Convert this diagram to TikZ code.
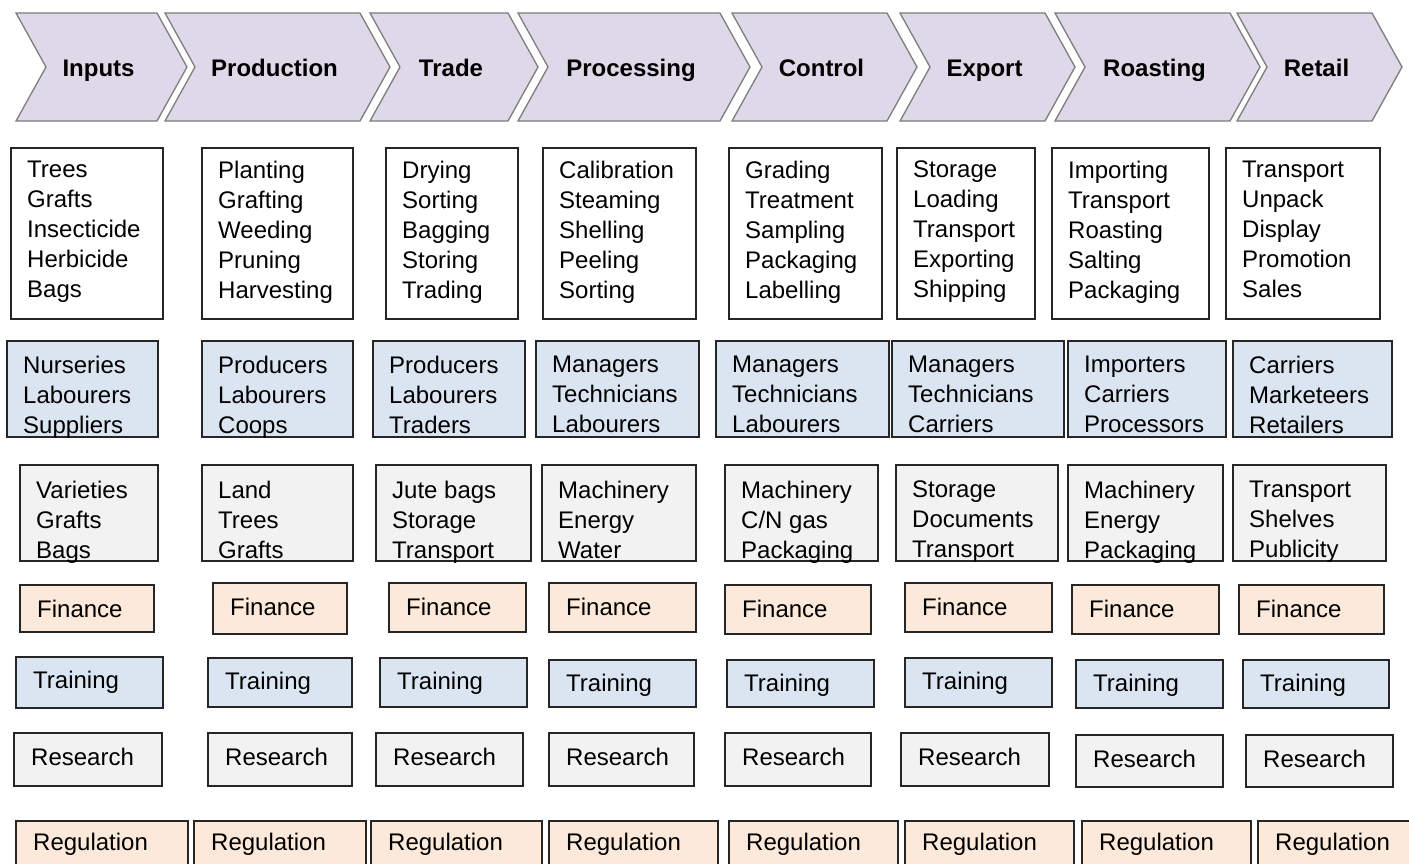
\documentclass[tikz,border=0pt]{standalone}
\usepackage{fontspec}
\setmainfont{Liberation Sans}
\definecolor{stagefill}{RGB}{222, 216, 232}
\definecolor{stageline}{RGB}{125, 125, 125}
\definecolor{cellline}{RGB}{38, 38, 38}
\definecolor{actorblue}{RGB}{219, 229, 241}
\definecolor{assetgray}{RGB}{242, 242, 242}
\definecolor{supportpeach}{RGB}{253, 233, 217}

\begin{document}
\begin{tikzpicture}[x=1pt, y=-1pt,
        stage/.style={draw=stageline, fill=stagefill, line width=1.3pt, line join=miter},
        stagelabel/.style={font=\bfseries\fontsize{24}{30}\selectfont, anchor=base},
        cell/.style={draw=cellline, line width=1.2pt, anchor=north west, inner sep=0pt, outer sep=0pt},
        celltext/.style={font=\fontsize{24}{30}\selectfont, align=left, anchor=north west, inner sep=0pt}]
        % Rahmen
        \useasboundingbox (0,0) rectangle (1409,863);
        \clip (0,0) rectangle (1409,863);
        \fill[white] (0,0) rectangle (1409,863);

        % Stufen der Kette
        \foreach \l/\r/\stagename [count=\i] in {16/157/Inputs, 165/360/Production, 370/508/Trade,
                518/720/Processing, 732/887/Control, 900/1045/Export, 1055/1230/Roasting, 1237/1372/Retail} {
            \draw[stage] (\l,13) -- (\r,13) -- (\r+30,67) -- (\r,121) -- (\l,121) -- (\l+30,67) -- cycle;
            \node[stagelabel] (stage\i) at ({(\l+\r)/2+12},76) {\stagename};
        }

        % Taetigkeiten
        \foreach \l/\r/\txt [count=\i] in {11/163/{Trees\\Grafts\\Insecticide\\Herbicide\\Bags},
                202/353/{Planting\\Grafting\\Weeding\\Pruning\\Harvesting},
                386/518/{Drying\\Sorting\\Bagging\\Storing\\Trading},
                543/696/{Calibration\\Steaming\\Shelling\\Peeling\\Sorting},
                729/882/{Grading\\Treatment\\Sampling\\Packaging\\Labelling},
                897/1035/{Storage\\Loading\\Transport\\Exporting\\Shipping},
                1052/1209/{Importing\\Transport\\Roasting\\Salting\\Packaging},
                1226/1380/{Transport\\Unpack\\Display\\Promotion\\Sales}} {
            \node[cell, fill=white, minimum width={\r-\l}, minimum height=171] (task\i) at (\l,148) {};
            \node[celltext] (tasktxt\i) at (\l+16,160.8) {\txt};
        }

        % Akteure
        \foreach \l/\r/\txt [count=\i] in {7/158/{Nurseries\\Labourers\\Suppliers},
                202/353/{Producers\\Labourers\\Coops},
                373/525/{Producers\\Labourers\\Traders},
                536/699/{Managers\\Technicians\\Labourers},
                716/889/{Managers\\Technicians\\Labourers},
                892/1064/{Managers\\Technicians\\Carriers},
                1068/1226/{Importers\\Carriers\\Processors},
                1233/1392/{Carriers\\Marketeers\\Retailers}} {
            \node[cell, fill=actorblue, minimum width={\r-\l}, minimum height=96] (actor\i) at (\l,341) {};
            \node[celltext] (actortxt\i) at (\l+16,355.8) {\txt};
        }

        % Mittel
        \foreach \l/\r/\txt [count=\i] in {20/158/{Varieties\\Grafts\\Bags},
                202/353/{Land\\Trees\\Grafts},
                376/531/{Jute bags\\Storage\\Transport},
                542/696/{Machinery\\Energy\\Water},
                725/878/{Machinery\\C/N gas\\Packaging},
                896/1058/{Storage\\Documents\\Transport},
                1068/1223/{Machinery\\Energy\\Packaging},
                1233/1386/{Transport\\Shelves\\Publicity}} {
            \node[cell, fill=assetgray, minimum width={\r-\l}, minimum height=96] (asset\i) at (\l,465) {};
            \node[celltext] (assettxt\i) at (\l+16,480.8) {\txt};
        }

        % Finanzierung
        \foreach \l/\r/\t/\b [count=\i] in {20/154/585/632, 213/347/583/634, 389/526/583/632, 549/696/583/632,
                725/871/585/634, 905/1052/583/632, 1072/1219/585/634, 1239/1384/585/634} {
            \node[cell, fill=supportpeach, minimum width={\r-\l}, minimum height={\b-\t}] (fin\i) at (\l,\t) {};
            \node[celltext] (fintxt\i) at (\l+17,\t+14.8) {Finance};
        }

        % Schulung
        \foreach \l/\r/\t/\b [count=\i] in {16/163/657/708, 208/352/658/707, 380/527/658/707, 549/696/660/707,
                727/874/660/707, 905/1052/658/707, 1076/1223/660/708, 1243/1389/660/708} {
            \node[cell, fill=actorblue, minimum width={\r-\l}, minimum height={\b-\t}] (train\i) at (\l,\t) {};
            \node[celltext] (traintxt\i) at (\l+17,\t+13.8) {Training};
        }

        % Forschung
        \foreach \l/\r/\t/\b [count=\i] in {14/162/733/786, 208/352/733/786, 376/523/733/786, 549/694/733/786,
                725/871/733/786, 901/1049/733/786, 1076/1223/735/787, 1246/1393/735/787} {
            \node[cell, fill=assetgray, minimum width={\r-\l}, minimum height={\b-\t}] (res\i) at (\l,\t) {};
            \node[celltext] (restxt\i) at (\l+17,\t+14.8) {Research};
        }

        % Regulierung
        \foreach \l/\r [count=\i] in {16/188, 194/366, 371/542, 549/718, 729/898, 905/1074, 1082/1251, 1258/1420} {
            \node[cell, fill=supportpeach, minimum width={\r-\l}, minimum height=70] (reg\i) at (\l,821) {};
            \node[celltext] (regtxt\i) at (\l+17,832.8) {Regulation};
        }
    \end{tikzpicture}
\end{document}
